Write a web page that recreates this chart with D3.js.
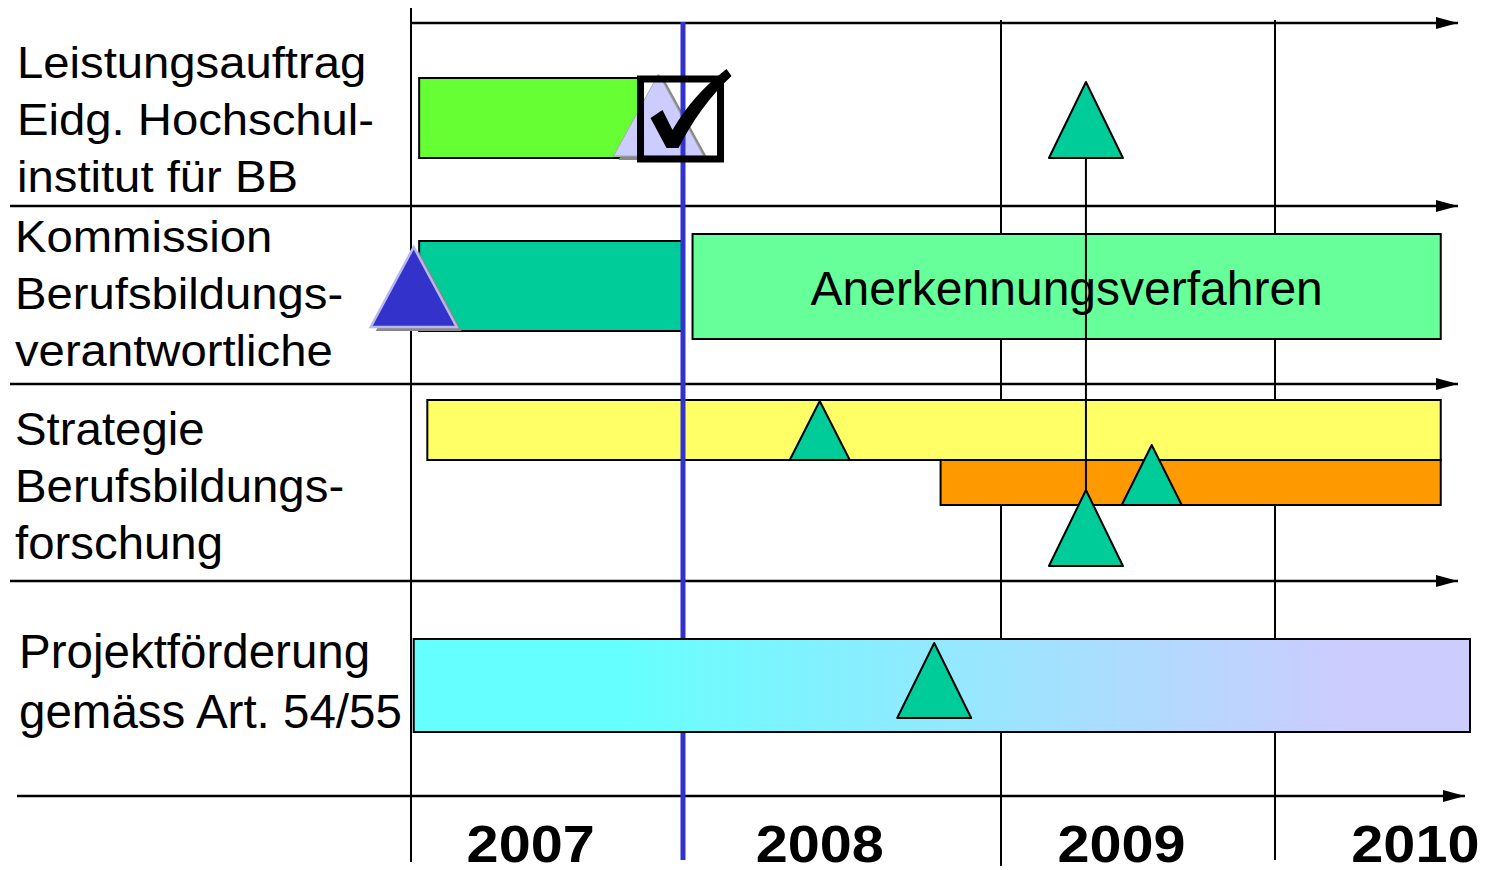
<!DOCTYPE html>
<html>
<head>
<meta charset="utf-8">
<script src="https://cdn.jsdelivr.net/npm/d3@7"></script>
<style>
  body { margin: 0; background: #fff; }
  text { font-family: "Liberation Sans", Arial, sans-serif; }
</style>
</head>
<body>
<script>
// ---- data ----
const years = [2007, 2008, 2009, 2010];
const yearBreaks = [2007, 2008, 2009, 2010, 2011];

const rowLabels = [
  ["Leistungsauftrag", "Eidg. Hochschul-", "institut für BB"],
  ["Kommission", "Berufsbildungs-", "verantwortliche"],
  ["Strategie", "Berufsbildungs-", "forschung"],
  ["Projektförderung", "gemäss Art. 54/55"]
];

const taskNames = ["Leistungsauftrag", "Kommission", "Anerkennungsverfahren", "Strategie", "Forschung", "Projektförderung"];
const taskStart = [2007.03, 2007.03, 2008.03, 2007.06, 2008.81, 2007.01];
const taskEnd   = [2007.84, 2008.00, 2010.85, 2010.85, 2010.85, 2011.00];
const taskLabel = ["", "", "Anerkennungsverfahren", "", "", ""];

const milestoneDates = [2007.91, 2007.01, 2009.31, 2008.43, 2009.55, 2009.31, 2008.79];
const milestoneKind  = ["done", "start", "open", "open", "open", "open", "open"];

const todayDate = 2008.0;
const linkDate = 2009.31;

// ---- layout ----
const width = 1488, height = 870;
const taskBox = [[78, 158], [241, 331], [234, 339], [400, 460], [460, 505], [639, 732]];
const taskFill = ["#66ff33", "#00cc99", "#66ff99", "#ffff66", "#ff9900", "url(#projGrad)"];
const msBox = [[74, 156, 45], [247, 327, 43], [82, 158, 37], [401, 460, 30], [445, 505, 30], [490, 566, 37], [643, 718, 37]];
const rowArrows = [[null, 23, 1458], [10, 206, 1458], [10, 384, 1458], [10, 581, 1458], [17, 796, 1465]];
const labelStyle = [
  {x: 17, y0: 78, dy: 57, size: 45, sx: 1.05},
  {x: 15, y0: 252, dy: 57, size: 45, sx: 1.05},
  {x: 15, y0: 445, dy: 57, size: 46, sx: 1.03},
  {x: 19, y0: 668, dy: 60, size: 47.5, sx: 1.0}
];
const yearLabelAt = [2007.44, 2008.43, 2009.44, 2010.72];

const x = d3.scaleLinear().domain(yearBreaks).range([411, 683, 1001, 1275, 1470]);

const svg = d3.select("body").append("svg")
  .attr("width", width)
  .attr("height", height);

const defs = svg.append("defs");
defs.append("marker")
  .attr("id", "arrow")
  .attr("markerUnits", "userSpaceOnUse")
  .attr("markerWidth", 22).attr("markerHeight", 12)
  .attr("refX", 22).attr("refY", 6)
  .attr("orient", "auto")
  .append("path").attr("d", "M0,0 L22,6 L0,12 Z").attr("fill", "#000");

const grad = defs.append("linearGradient").attr("id", "projGrad");
grad.append("stop").attr("offset", "20%").attr("stop-color", "#66ffff");
grad.append("stop").attr("offset", "88%").attr("stop-color", "#ccccff");

// vertical grid lines
svg.append("line").attr("x1", x(2007)).attr("x2", x(2007)).attr("y1", 8).attr("y2", 862)
  .attr("stroke", "#000").attr("stroke-width", 2);
[2009, 2010].forEach((d, i) => {
  svg.append("line").attr("x1", x(d)).attr("x2", x(d)).attr("y1", 20).attr("y2", 866 - i * 6)
    .attr("stroke", "#000").attr("stroke-width", 2);
});

// row separators with arrows
svg.selectAll(".row-arrow")
  .data(rowArrows)
  .join("line")
  .attr("class", "row-arrow")
  .attr("x1", d => d[0] === null ? x(2007) : d[0])
  .attr("x2", d => d[2])
  .attr("y1", d => d[1]).attr("y2", d => d[1])
  .attr("stroke", "#000").attr("stroke-width", 2.5)
  .attr("marker-end", "url(#arrow)");

// row labels
rowLabels.forEach((lines, r) => {
  const s = labelStyle[r];
  lines.forEach((t, i) => {
    svg.append("text")
      .attr("transform", `translate(${s.x},${s.y0 + i * s.dy}) scale(${s.sx},1)`)
      .style("font-size", s.size + "px")
      .attr("fill", "#000")
      .text(t);
  });
});

// task bars (yellow/orange drawn before today line, project after)
const tasks = taskNames.map((n, i) => ({name: n, start: taskStart[i], end: taskEnd[i], label: taskLabel[i], i}));

function drawBar(g, d) {
  g.append("rect")
    .attr("x", x(d.start))
    .attr("y", taskBox[d.i][0])
    .attr("width", x(d.end) - x(d.start))
    .attr("height", taskBox[d.i][1] - taskBox[d.i][0])
    .attr("fill", taskFill[d.i])
    .attr("stroke", "#000")
    .attr("stroke-width", 2);
  if (d.label) {
    g.append("text")
      .attr("x", (x(d.start) + x(d.end)) / 2)
      .attr("y", 305)
      .attr("text-anchor", "middle")
      .style("font-size", "48px")
      .text(d.label);
  }
}

const barsBack = svg.append("g");
tasks.slice(0, 5).forEach(d => drawBar(barsBack, d));

function tri(cx, box) {
  const [top, base, hw] = box;
  return `M${cx},${top} L${cx + hw},${base} L${cx - hw},${base} Z`;
}

// completed / start milestones with shadows
const ms = milestoneDates.map((t, i) => ({t, kind: milestoneKind[i], box: msBox[i]}));
const specialG = svg.append("g");
ms.filter(d => d.kind !== "open").forEach(d => {
  const cx = x(d.t);
  specialG.append("path").attr("d", tri(cx, d.box))
    .attr("transform", "translate(5,4)")
    .attr("fill", "#888");
  specialG.append("path").attr("d", tri(cx, d.box))
    .attr("fill", d.kind === "done" ? "#ccccff" : "#3333cc")
    .attr("stroke", d.kind === "done" ? "#aaaaaa" : "#b8b8f0")
    .attr("stroke-width", d.kind === "done" ? 1 : 2.5);
});

// today line
svg.append("line")
  .attr("x1", x(todayDate)).attr("x2", x(todayDate))
  .attr("y1", 22).attr("y2", 860)
  .attr("stroke", "#3333cc").attr("stroke-width", 5);

// project bar on top of today line
drawBar(svg.append("g"), tasks[5]);

// connector between linked milestones
svg.append("line")
  .attr("x1", x(linkDate)).attr("x2", x(linkDate))
  .attr("y1", msBox[2][1]).attr("y2", msBox[5][0])
  .attr("stroke", "#000").attr("stroke-width", 2);

// open milestones
svg.selectAll(".ms-open")
  .data(ms.filter(d => d.kind === "open"))
  .join("path")
  .attr("class", "ms-open")
  .attr("d", d => tri(x(d.t), d.box))
  .attr("fill", "#00cc99")
  .attr("stroke", "#000")
  .attr("stroke-width", 2)
  .attr("stroke-linejoin", "round");

// check box on completed milestone
const done = ms.find(d => d.kind === "done");
const bx = x(done.t) + 22;
const chk = svg.append("g").attr("transform", `translate(${bx},119)`);
chk.append("rect")
  .attr("x", -40).attr("y", -40).attr("width", 80).attr("height", 80)
  .attr("fill", "none").attr("stroke", "#000").attr("stroke-width", 7);
chk.append("path")
  .attr("d", "M-30,-1 L-18,-9 L-8,11 Q12,-24 46,-50 L51,-43 Q20,-14 -2,29 L-14,29 Z")
  .attr("fill", "#000");

// year labels
svg.selectAll(".year")
  .data(years)
  .join("text")
  .attr("class", "year")
  .attr("transform", (d, i) => `translate(${x(yearLabelAt[i])},862) scale(1.13,1)`)
  .attr("text-anchor", "middle")
  .style("font-size", "51px")
  .style("font-weight", "bold")
  .text(d => d);
</script>
</body>
</html>
